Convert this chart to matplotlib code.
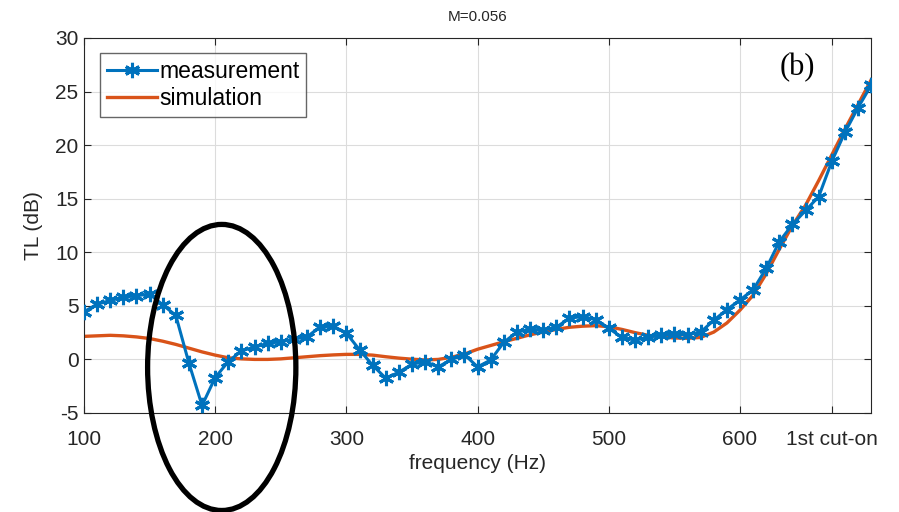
import matplotlib.pyplot as plt
from matplotlib.patches import Ellipse

plt.rcParams["font.family"] = ["Liberation Sans", "DejaVu Sans"]
plt.rcParams["axes.unicode_minus"] = False

# datos
freq = list(range(100, 701, 10))
medicion = [4.45, 5.15, 5.5, 5.8, 5.95, 6.1, 5.1, 4.1, -0.35, -4.3,
            -1.7, -0.2, 0.8, 1.15, 1.5, 1.65, 1.9, 2.1, 3.05, 3.1,
            2.45, 0.9, -0.55, -1.75, -1.2, -0.45, -0.2, -0.7, 0.0, 0.45,
            -0.7, -0.05, 1.6, 2.55, 2.8, 2.75, 3.0, 3.85, 4.0, 3.7,
            2.9, 2.05, 1.8, 2.05, 2.3, 2.35, 2.3, 2.55, 3.65, 4.65,
            5.55, 6.5, 8.5, 11.0, 12.6, 13.9, 15.2, 18.5, 21.2, 23.5,
            25.6]
simulacion = [2.15, 2.2, 2.25, 2.2, 2.1, 1.95, 1.7, 1.4, 1.05, 0.7,
              0.4, 0.15, 0.05, 0.0, 0.0, 0.05, 0.15, 0.25, 0.35, 0.42,
              0.47, 0.47, 0.4, 0.25, 0.12, 0.02, -0.05, 0.0, 0.2, 0.5,
              0.95, 1.3, 1.65, 1.97, 2.3, 2.55, 2.8, 3.0, 3.1, 3.15,
              3.05, 2.8, 2.5, 2.25, 2.1, 2.0, 1.97, 2.05, 2.55, 3.4,
              4.6, 6.0, 8.0, 10.3, 12.5, 14.4, 16.7, 19.1, 21.5, 23.8,
              26.1]
xticks = [100, 200, 300, 400, 500, 600, 670]
xticklabels = ["100", "200", "300", "400", "500", "600", "1st cut-on"]
yticks = [-5, 0, 5, 10, 15, 20, 25, 30]

fig = plt.figure(figsize=(8.99, 5.12), dpi=100)
ax = fig.add_axes([0.0934, 0.1934, 0.8757, 0.7324])

ax.plot(freq, medicion, color="#0072BD", lw=2.2, marker=(6, 2, 0), ms=11,
        mew=2.2, label="measurement", zorder=3)
ax.plot(freq, simulacion, color="#D95319", lw=2.4, label="simulation", zorder=2)

ax.set_xlim(100, 700)
ax.set_ylim(-5, 30)
ax.set_xticks(xticks)
ax.set_xticklabels(xticklabels)
ax.set_yticks(yticks)
ax.tick_params(direction="in", top=True, right=True, labelsize=15,
               colors="#262626", length=5)
ax.tick_params(axis="x", pad=12)
ax.tick_params(axis="y", pad=4)
ax.grid(True, color="#dcdcdc", lw=0.8)
for s in ax.spines.values():
    s.set_color("#262626")

ax.set_xlabel("frequency (Hz)", fontsize=15, color="#262626", labelpad=4)
ax.set_ylabel("TL (dB)", fontsize=15, color="#262626", labelpad=9)
ax.set_title("M=0.056", fontsize=11, color="#262626", pad=12)

leg = ax.legend(loc="upper left", fontsize=16.5, frameon=True, fancybox=False,
                edgecolor="#404040", borderpad=0.3, handlelength=2.2,
                handletextpad=0.1, labelspacing=0.2, borderaxespad=0,
                bbox_to_anchor=(0.02, 0.96))
leg.get_frame().set_linewidth(1.0)

ax.text(0.906, 0.92, "(b)", transform=ax.transAxes, fontsize=22,
        family="Liberation Serif", ha="center", va="center")

circulo = Ellipse((205, -0.75), width=113, height=26.7, fill=False,
                  edgecolor="black", lw=3.8, clip_on=False, zorder=5)
ax.add_patch(circulo)

fig.savefig("out.png", dpi=100)
